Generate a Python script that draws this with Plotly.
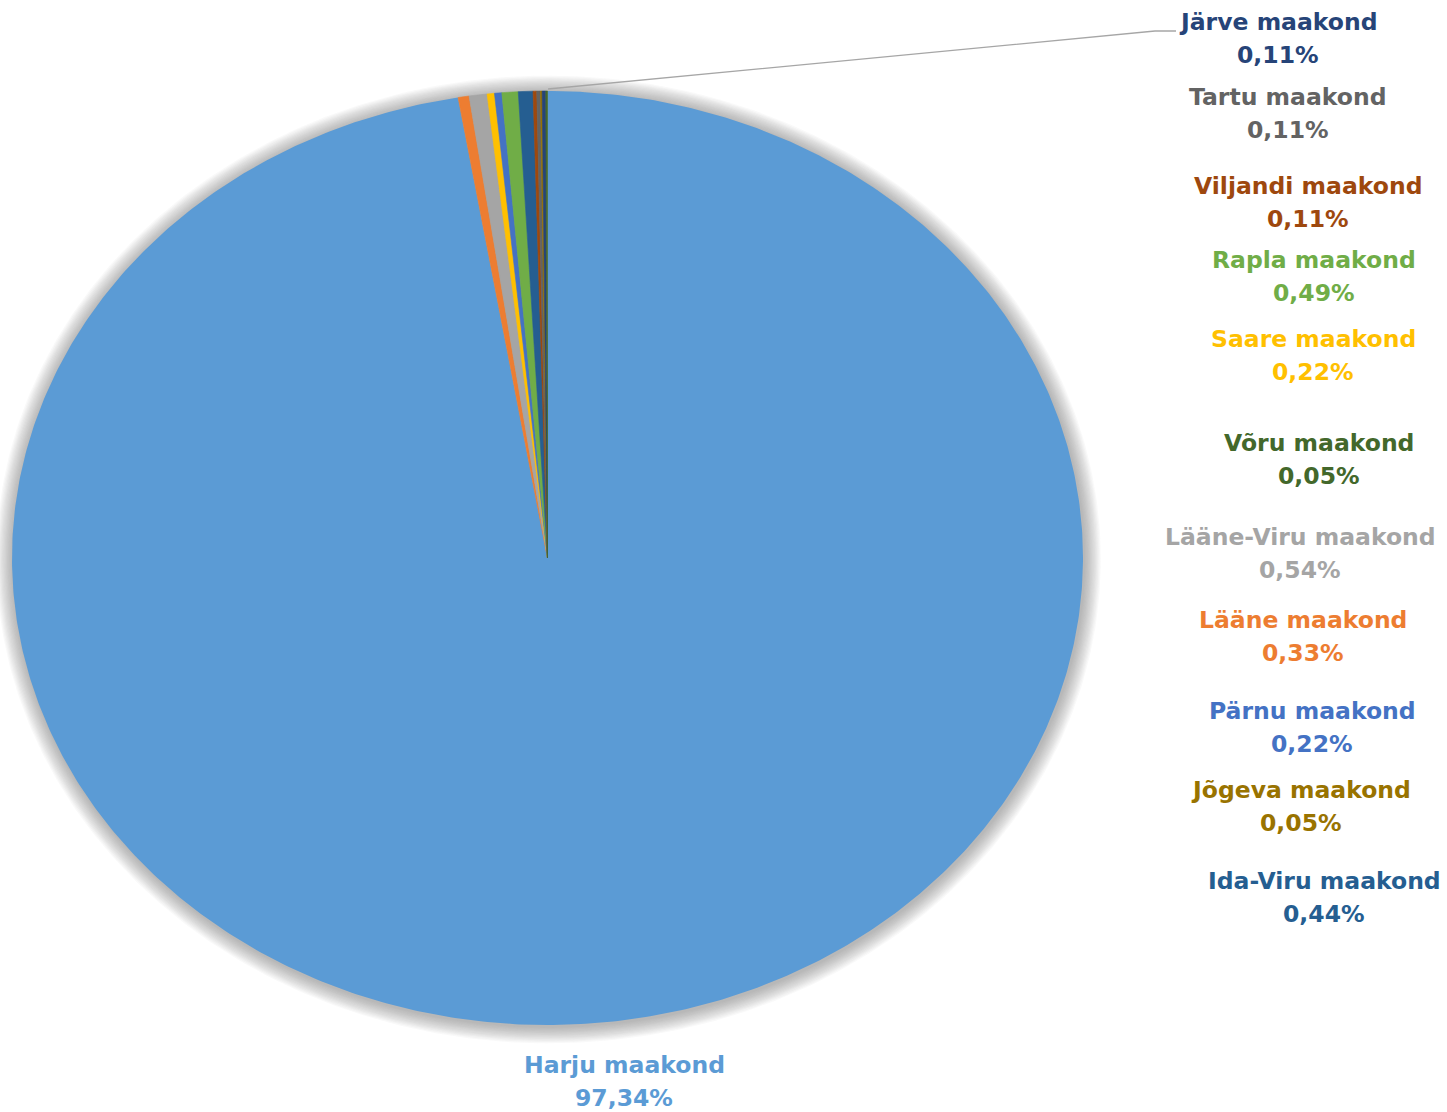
import numpy as np
import plotly.graph_objects as go

# ---- data ----
counties = ["Harju maakond", "Lääne maakond", "Lääne-Viru maakond", "Saare maakond",
            "Pärnu maakond", "Rapla maakond", "Ida-Viru maakond", "Viljandi maakond",
            "Tartu maakond", "Jõgeva maakond", "Järve maakond", "Võru maakond"]
shares = [97.34, 0.33, 0.54, 0.22, 0.22, 0.49, 0.44, 0.11, 0.11, 0.05, 0.11, 0.05]
colors = ["#5B9BD5", "#ED7D31", "#A5A5A5", "#FFC000", "#4472C4", "#70AD47",
          "#255E91", "#9E480E", "#636363", "#997300", "#264478", "#43682B"]

# label placement (pixels: centre x, y of first line)
label_pos = {
    "Harju maakond": (624, 1065),
    "Lääne maakond": (1303, 620),
    "Lääne-Viru maakond": (1300, 537),
    "Saare maakond": (1313, 339),
    "Pärnu maakond": (1312, 711),
    "Rapla maakond": (1314, 260),
    "Ida-Viru maakond": (1324, 881),
    "Viljandi maakond": (1308, 186),
    "Tartu maakond": (1288, 97),
    "Jõgeva maakond": (1301, 790),
    "Järve maakond": (1278, 22),
    "Võru maakond": (1319, 443),
}

W, H = 1447, 1112
CX, CY, RX, RY = 547.5, 558, 535.5, 467

fig = go.Figure()

# soft shadow around the pie
t = np.linspace(0, 2 * np.pi, 500)
for k in range(14, 0, -1):
    grow = k * 1.2
    fig.add_trace(go.Scatter(
        x=CX + 1.0 + (RX + grow) * np.sin(t), y=CY + 1.5 - (RY + grow) * np.cos(t),
        mode="lines", fill="toself", line=dict(width=0),
        fillcolor="rgba(110,110,110,0.04)", hoverinfo="skip", showlegend=False))

total = sum(shares)
start = 0.0
for name, val, col in zip(counties, shares, colors):
    a0 = start / total * 2 * np.pi
    a1 = (start + val) / total * 2 * np.pi
    n = max(3, int((a1 - a0) / (2 * np.pi) * 720) + 2)
    th = np.linspace(a0, a1, n)
    xs = np.concatenate([[CX], CX + RX * np.sin(th), [CX]])
    ys = np.concatenate([[CY], CY - RY * np.cos(th), [CY]])
    fig.add_trace(go.Scatter(x=xs, y=ys, mode="lines", fill="toself",
                             line=dict(width=0.6 if val < 50 else 0, color=col),
                             fillcolor=col, name=name, showlegend=False,
                             hoverinfo="text", text=f"{name}: {val:.2f}%"))
    start += val

font_family = "DejaVu Sans"
fs = 23.5
for name, val, col in zip(counties, shares, colors):
    x, y = label_pos[name]
    pct = f"{val:.2f}%".replace(".", ",")
    fig.add_annotation(x=x, y=y, text=f"<b>{name}</b>", showarrow=False,
                       xanchor="center", yanchor="middle",
                       font=dict(family=font_family, size=fs, color=col))
    fig.add_annotation(x=x, y=y + 33, text=f"<b>{pct}</b>", showarrow=False,
                       xanchor="center", yanchor="middle",
                       font=dict(family=font_family, size=fs, color=col))

# leader line to Järve label
fig.add_shape(type="path", path="M 548,89 L 1155,31 L 1176,31",
              line=dict(color="#A6A6A6", width=1.3))

fig.update_layout(
    width=W, height=H, margin=dict(l=0, r=0, t=0, b=0),
    paper_bgcolor="white", plot_bgcolor="white",
    xaxis=dict(range=[0, W], visible=False, fixedrange=True),
    yaxis=dict(range=[H, 0], visible=False, fixedrange=True),
)

fig.write_html("out.html", post_script="document.body.style.margin='0';",
               config={"displayModeBar": False})
